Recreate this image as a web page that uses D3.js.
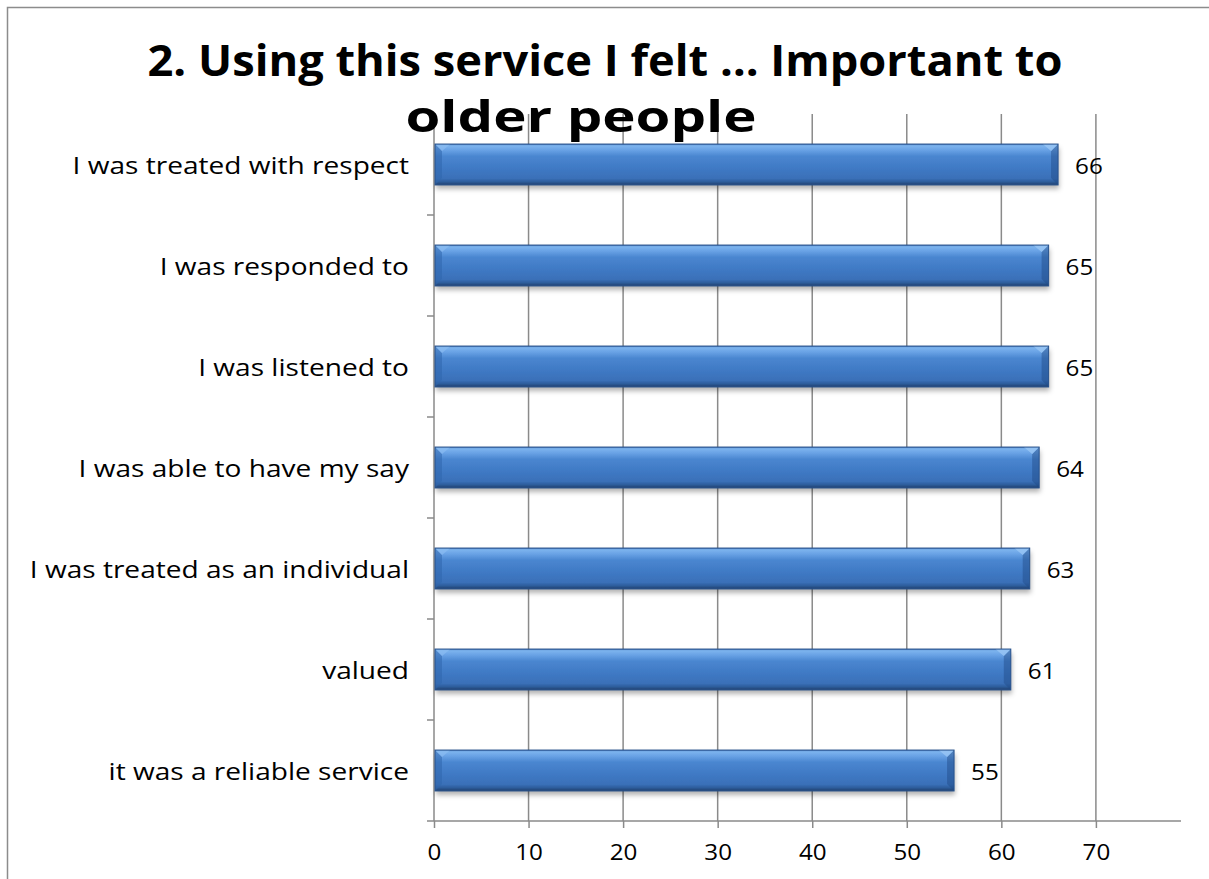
<!DOCTYPE html>
<html>
<head>
<meta charset="utf-8">
<script src="https://cdn.jsdelivr.net/npm/d3@7/dist/d3.min.js"></script>
<style>
  html, body { margin: 0; padding: 0; background: #fff; }
  svg { display: block; }
  text { font-family: "Century Gothic", "Open Sans", sans-serif; fill: #000; }
</style>
</head>
<body>
<svg id="chart" width="1209" height="879"></svg>
<script>
// Survey answers, top to bottom
const categories = [
  "I was treated with respect",
  "I was responded to",
  "I was listened to",
  "I was able to have my say",
  "I was treated as an individual",
  "valued",
  "it was a reliable service"
];
const values = [66, 65, 65, 64, 63, 61, 55];
const xTicks = [0, 10, 20, 30, 40, 50, 60, 70];
const titleLines = ["2. Using this service I felt \u2026 Important to", "older people"];

const svg = d3.select("#chart");
const W = 1209, H = 879;
const plot = { left: 434, right: 1181, top: 114, bottom: 821 };

const x = d3.scaleLinear().domain([0, 79]).range([plot.left, plot.right]);
const y = d3.scaleBand().domain(categories).range([plot.top, plot.bottom]).padding(0);
const barH = y.bandwidth() * 0.405;

// the fallback face is narrower than the geometric face the layout was set in,
// so glyphs are widened by a factor
function stretch(widen) {
  return sel => sel.each(function () {
    const len = this.getComputedTextLength();
    d3.select(this).attr("textLength", len * widen).attr("lengthAdjust", "spacingAndGlyphs");
  });
}

// outer frame
svg.append("rect")
  .attr("x", 7.5).attr("y", 7.5)
  .attr("width", W + 20).attr("height", H + 20)
  .attr("fill", "#fff").attr("stroke", "#8c8c8c").attr("stroke-width", 1.5);

const defs = svg.append("defs");
const grad = defs.append("linearGradient")
  .attr("id", "barFill").attr("x1", 0).attr("y1", 0).attr("x2", 0).attr("y2", 1);
[
  [0, "#3a6db3"], [0.04, "#7db4ee"], [0.14, "#6aa3e6"], [0.3, "#4a86d0"],
  [0.6, "#3f79c4"], [0.84, "#3a70b8"], [0.92, "#2e5d9c"], [1, "#1f406e"]
].forEach(([o, c]) => grad.append("stop").attr("offset", o).attr("stop-color", c));

const shadow = defs.append("filter").attr("id", "barShadow")
  .attr("x", "-5%").attr("y", "-30%").attr("width", "110%").attr("height", "170%");
shadow.append("feDropShadow")
  .attr("dx", 1).attr("dy", 4).attr("stdDeviation", 2.5)
  .attr("flood-color", "#000").attr("flood-opacity", 0.3);

// vertical gridlines
const gridG = svg.append("g");
gridG.selectAll("line").data(xTicks.filter(d => d > 0)).join("line")
  .attr("x1", d => x(d)).attr("x2", d => x(d))
  .attr("y1", plot.top).attr("y2", plot.bottom)
  .attr("stroke", "#8a8a8a").attr("stroke-width", 1.5);

// category axis (left)
const yAxisG = svg.append("g");
yAxisG.append("line")
  .attr("x1", plot.left).attr("x2", plot.left)
  .attr("y1", plot.top).attr("y2", plot.bottom)
  .attr("stroke", "#8a8a8a").attr("stroke-width", 1.5);
const bounds = categories.map(c => y(c));
yAxisG.selectAll("line.tick").data(bounds).join("line")
  .attr("class", "tick")
  .attr("x1", plot.left - 7).attr("x2", plot.left)
  .attr("y1", d => d).attr("y2", d => d)
  .attr("stroke", "#8a8a8a").attr("stroke-width", 1.5);
yAxisG.selectAll("text").data(categories).join("text")
  .attr("x", plot.left - 25)
  .attr("y", d => y(d) + y.bandwidth() / 2)
  .attr("text-anchor", "end")
  .attr("dominant-baseline", "central")
  .style("font-size", "23px")
  .text(d => d)
  .call(stretch(1.22));

// value axis (bottom)
const xAxisG = svg.append("g")
  .attr("transform", `translate(0,${plot.bottom})`)
  .call(d3.axisBottom(x).tickValues(xTicks).tickSize(7).tickPadding(16).tickSizeOuter(0));
xAxisG.select(".domain")
  .attr("d", `M${plot.left - 7},0H${plot.right}`)
  .attr("stroke", "#8a8a8a").attr("stroke-width", 1.5);
xAxisG.selectAll(".tick line").attr("stroke", "#8a8a8a").attr("stroke-width", 1.5);
xAxisG.selectAll(".tick text")
  .style("font-size", "22px")
  .style("font-family", '"Century Gothic", "Open Sans", sans-serif')
  .attr("fill", "#000")
  .call(stretch(1.1));

// bars with bevelled edges
const bars = svg.append("g").selectAll("g.bar").data(categories.map((c, i) => ({ c, v: values[i] })))
  .join("g").attr("class", "bar");

bars.each(function (d) {
  const g = d3.select(this);
  const x0 = x(0) + 1, x1 = x(d.v);
  const y0 = y(d.c) + (y.bandwidth() - barH) / 2, y1 = y0 + barH;
  const b = 7;
  g.append("rect")
    .attr("x", x0).attr("y", y0).attr("width", x1 - x0).attr("height", barH)
    .attr("fill", "url(#barFill)").attr("filter", "url(#barShadow)");
  // left bevel
  g.append("path")
    .attr("d", `M${x0},${y0}L${x0 + b},${y0 + b}L${x0 + b},${y1 - b}L${x0},${y1}Z`)
    .attr("fill", "#2f66ad").attr("opacity", 0.55);
  // top-left highlight wedge
  g.append("path")
    .attr("d", `M${x0},${y0}L${x0 + b * 2.2},${y0}L${x0 + b},${y0 + b}Z`)
    .attr("fill", "#8fc0f3").attr("opacity", 0.6);
  // right bevel
  g.append("path")
    .attr("d", `M${x1},${y0}L${x1 - b},${y0 + b}L${x1 - b},${y1 - b}L${x1},${y1}Z`)
    .attr("fill", "#1f4a85").attr("opacity", 0.45);
  // top-right highlight wedge
  g.append("path")
    .attr("d", `M${x1},${y0}L${x1 - b * 2.2},${y0}L${x1 - b},${y0 + b}Z`)
    .attr("fill", "#9cc8f5").attr("opacity", 0.75);
  // outline
  g.append("rect")
    .attr("x", x0).attr("y", y0).attr("width", x1 - x0).attr("height", barH)
    .attr("fill", "none").attr("stroke", "#28528c").attr("stroke-width", 1);
  // value label
  g.append("text")
    .attr("x", x1 + 17)
    .attr("y", y0 + barH / 2)
    .attr("dominant-baseline", "central")
    .style("font-size", "22px")
    .text(d.v)
    .call(stretch(1.1));
});

// title
const titleG = svg.append("g");
titleG.append("text")
  .attr("x", 605).attr("y", 76)
  .attr("text-anchor", "middle")
  .attr("textLength", 915).attr("lengthAdjust", "spacingAndGlyphs")
  .style("font-size", "43px").style("font-weight", "bold")
  .text(titleLines[0]);
titleG.append("text")
  .attr("x", 581).attr("y", 132)
  .attr("text-anchor", "middle")
  .attr("textLength", 351).attr("lengthAdjust", "spacingAndGlyphs")
  .style("font-size", "43px").style("font-weight", "bold")
  .text(titleLines[1]);
</script>
</body>
</html>
